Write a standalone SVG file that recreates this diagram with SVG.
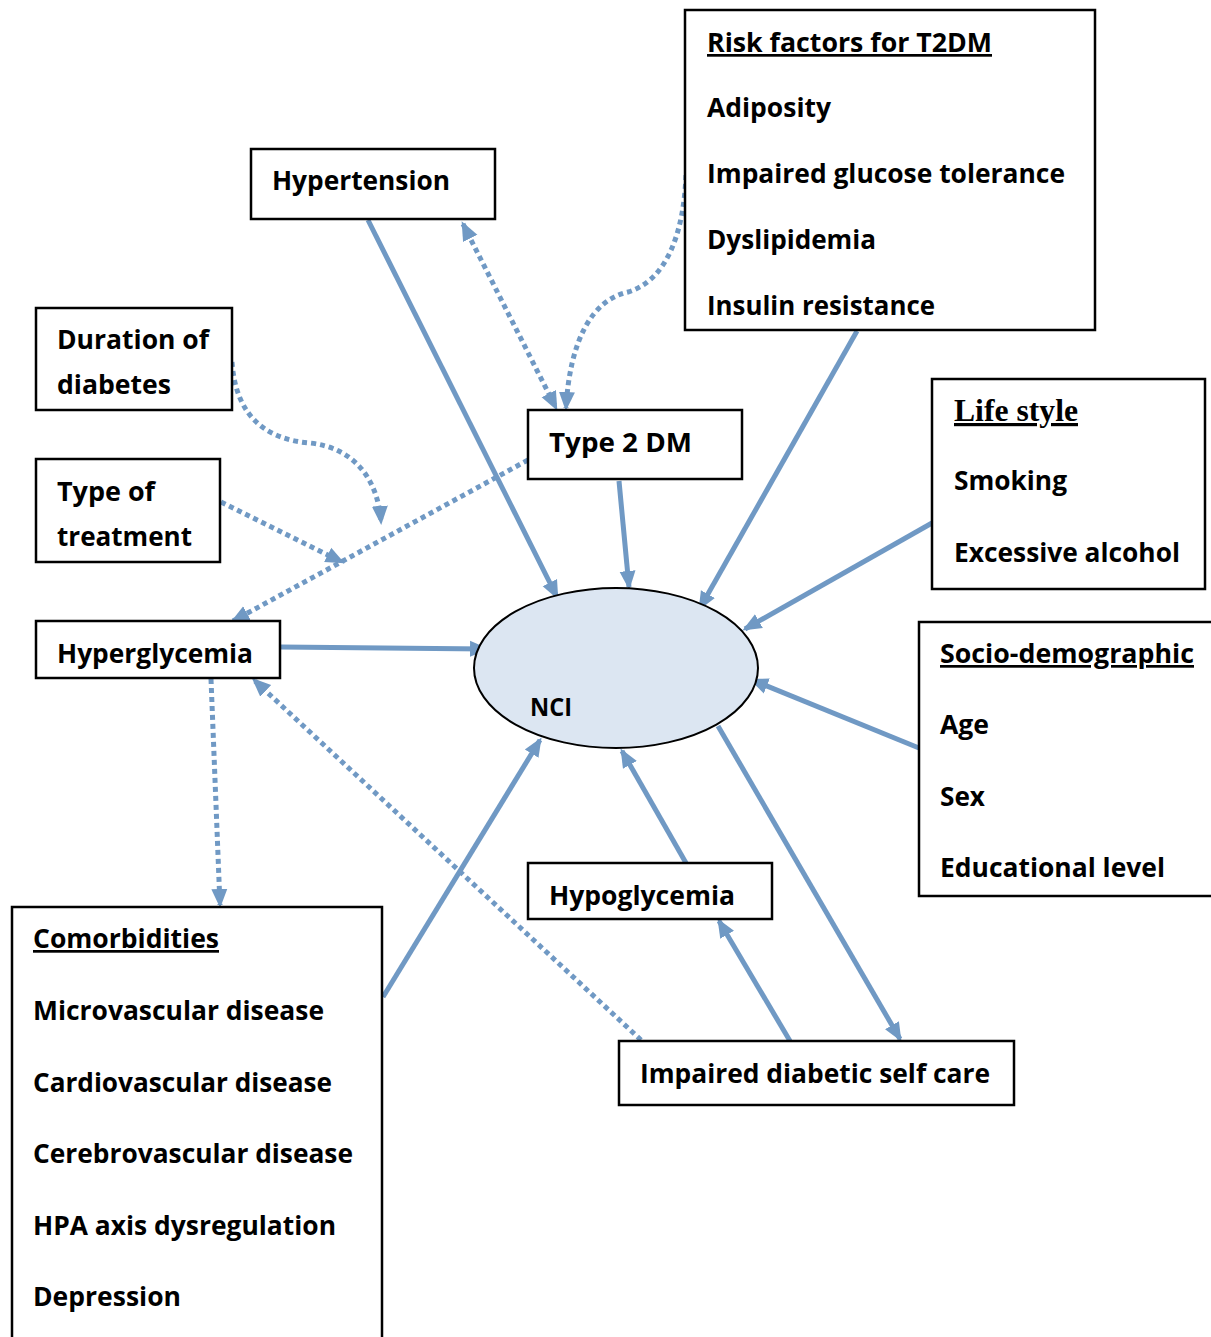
<svg xmlns="http://www.w3.org/2000/svg" width="1211" height="1337" viewBox="0 0 1211 1337">
<style>
.box{fill:#fff;stroke:#000;stroke-width:2.5}
.t{font-family:"Open Sans","Liberation Sans",sans-serif;font-weight:bold;font-size:27px;fill:#000}
.u{text-decoration:underline}
.serif{font-family:"Liberation Serif","Times New Roman",serif;font-weight:bold;font-size:32px;fill:#000}
.s{fill:none;stroke:#7099C4;stroke-width:5}
.d{fill:none;stroke:#7099C4;stroke-width:5;stroke-dasharray:5 4}
.a{marker-end:url(#ah)}
.b{marker-start:url(#ahs)}
</style>
<defs>
<marker id="ah" markerUnits="userSpaceOnUse" markerWidth="20" markerHeight="18" viewBox="0 0 20 18" refX="16" refY="9" orient="auto">
<path d="M0,1 L19,9 L0,17 z" fill="#7099C4"/>
</marker>
<marker id="ahs" markerUnits="userSpaceOnUse" markerWidth="20" markerHeight="18" viewBox="0 0 20 18" refX="16" refY="9" orient="auto-start-reverse">
<path d="M0,1 L19,9 L0,17 z" fill="#7099C4"/>
</marker>
</defs>
<rect width="1211" height="1337" fill="#fff"/>

<g id="connectors">
<line class="s a" x1="368" y1="220" x2="557" y2="597"/>
<line class="d a b" x1="463" y1="224" x2="556" y2="408"/>
<path class="d a" d="M686,175 C684,230 668,280 628,292 C592,300 570,340 566,408"/>
<line class="s a" x1="619" y1="481" x2="629" y2="587"/>
<line class="s a" x1="857" y1="331" x2="700" y2="608"/>
<line class="s a" x1="932" y1="523" x2="745" y2="629"/>
<line class="s a" x1="919" y1="748" x2="752" y2="680"/>
<line class="s a" x1="718" y1="726" x2="900" y2="1039"/>
<line class="s a" x1="790" y1="1041" x2="719" y2="921"/>
<line class="s a" x1="686" y1="863" x2="622" y2="751"/>
<line class="s a" x1="383" y1="997" x2="540" y2="740"/>
<line class="d a" x1="641" y1="1040" x2="254" y2="680"/>
<line class="s a" x1="281" y1="647" x2="486" y2="649"/>
<line class="d a" x1="211" y1="679" x2="220" y2="905"/>
<line class="d a" x1="528" y1="460" x2="233" y2="621"/>
<line class="d a" x1="221" y1="502" x2="342" y2="562"/>
<path class="d a" d="M232,362 C236,420 270,440 310,443 C355,448 378,480 381,522"/>
</g>

<g id="risk-factors">
<rect class="box" x="685" y="10" width="410" height="320"/>
<text class="t u" x="707" y="52" textLength="285" lengthAdjust="spacingAndGlyphs">Risk factors for T2DM</text>
<text class="t" x="707" y="117" textLength="124" lengthAdjust="spacingAndGlyphs">Adiposity</text>
<text class="t" x="707" y="183" textLength="358" lengthAdjust="spacingAndGlyphs">Impaired glucose tolerance</text>
<text class="t" x="707" y="249" textLength="169" lengthAdjust="spacingAndGlyphs">Dyslipidemia</text>
<text class="t" x="707" y="315" textLength="228" lengthAdjust="spacingAndGlyphs">Insulin resistance</text>
</g>

<g id="hypertension">
<rect class="box" x="251" y="149" width="244" height="70"/>
<text class="t" x="272" y="190" textLength="178" lengthAdjust="spacingAndGlyphs">Hypertension</text>
</g>

<g id="duration">
<rect class="box" x="36" y="308" width="196" height="102"/>
<text class="t" x="57" y="349" textLength="152" lengthAdjust="spacingAndGlyphs">Duration of</text>
<text class="t" x="57" y="394" textLength="114" lengthAdjust="spacingAndGlyphs">diabetes</text>
</g>

<g id="treatment">
<rect class="box" x="36" y="459" width="184" height="103"/>
<text class="t" x="57" y="501" textLength="98" lengthAdjust="spacingAndGlyphs">Type of</text>
<text class="t" x="57" y="546" textLength="135" lengthAdjust="spacingAndGlyphs">treatment</text>
</g>

<g id="type2dm">
<rect class="box" x="528" y="410" width="214" height="69"/>
<text class="t" x="549" y="452" textLength="143" lengthAdjust="spacingAndGlyphs">Type 2 DM</text>
</g>

<g id="lifestyle">
<rect class="box" x="932" y="379" width="273" height="210"/>
<text class="serif u" x="954" y="421" textLength="124" lengthAdjust="spacingAndGlyphs">Life style</text>
<text class="t" x="954" y="490" textLength="113" lengthAdjust="spacingAndGlyphs">Smoking</text>
<text class="t" x="954" y="562" textLength="226" lengthAdjust="spacingAndGlyphs">Excessive alcohol</text>
</g>

<g id="socio">
<rect class="box" x="919" y="622" width="300" height="274"/>
<text class="t u" x="940" y="663" textLength="254" lengthAdjust="spacingAndGlyphs">Socio-demographic</text>
<text class="t" x="940" y="734" textLength="49" lengthAdjust="spacingAndGlyphs">Age</text>
<text class="t" x="940" y="806" textLength="45" lengthAdjust="spacingAndGlyphs">Sex</text>
<text class="t" x="940" y="877" textLength="225" lengthAdjust="spacingAndGlyphs">Educational level</text>
</g>

<g id="hyperglycemia">
<rect class="box" x="36" y="621" width="244" height="57"/>
<text class="t" x="57" y="663" textLength="196" lengthAdjust="spacingAndGlyphs">Hyperglycemia</text>
</g>

<g id="nci">
<ellipse cx="616" cy="668" rx="142" ry="80" fill="#DCE6F2" stroke="#000" stroke-width="2"/>
<text class="t" x="530" y="716" style="font-size:25px" textLength="42" lengthAdjust="spacingAndGlyphs">NCI</text>
</g>

<g id="comorbidities">
<rect class="box" x="12" y="907" width="370" height="440"/>
<text class="t u" x="33" y="948" textLength="186" lengthAdjust="spacingAndGlyphs">Comorbidities</text>
<text class="t" x="33" y="1020" textLength="291" lengthAdjust="spacingAndGlyphs">Microvascular disease</text>
<text class="t" x="33" y="1092" textLength="299" lengthAdjust="spacingAndGlyphs">Cardiovascular disease</text>
<text class="t" x="33" y="1163" textLength="320" lengthAdjust="spacingAndGlyphs">Cerebrovascular disease</text>
<text class="t" x="33" y="1235" textLength="303" lengthAdjust="spacingAndGlyphs">HPA axis dysregulation</text>
<text class="t" x="33" y="1306" textLength="148" lengthAdjust="spacingAndGlyphs">Depression</text>
</g>

<g id="hypoglycemia">
<rect class="box" x="528" y="863" width="244" height="56"/>
<text class="t" x="549" y="905" textLength="186" lengthAdjust="spacingAndGlyphs">Hypoglycemia</text>
</g>

<g id="selfcare">
<rect class="box" x="619" y="1041" width="395" height="64"/>
<text class="t" x="640" y="1083" textLength="350" lengthAdjust="spacingAndGlyphs">Impaired diabetic self care</text>
</g>
</svg>
